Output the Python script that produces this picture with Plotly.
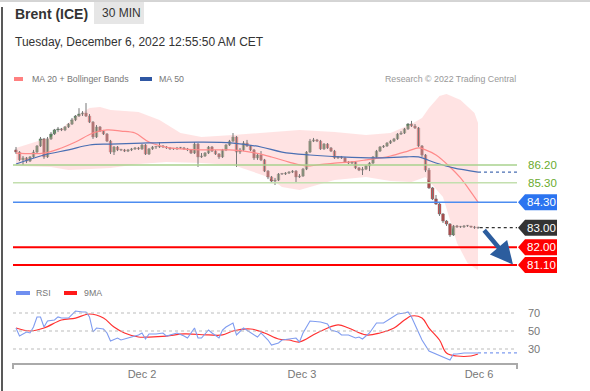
import plotly.graph_objects as go

W, H = 590, 391

# ---------------- data ----------------
candle_idx = list(range(133))
opens = [86.97, 86.86, 86.46, 86.56, 86.40, 86.61, 86.86, 87.17, 87.53, 86.61,
         87.53, 87.78, 87.99, 88.04, 87.99, 88.14, 88.29, 88.50, 88.70, 88.80,
         88.85, 88.70, 88.39, 87.63, 88.14, 87.93, 87.78, 87.42, 86.86, 87.12,
         86.97, 86.97, 86.91, 86.97, 87.02, 87.07, 87.02, 87.22, 86.76, 87.02,
         87.12, 87.12, 87.17, 87.12, 87.07, 87.02, 87.02, 87.07, 87.07, 87.02,
         86.97, 86.81, 87.27, 86.61, 86.66, 86.81, 87.12, 86.91, 86.76, 86.61,
         86.97, 87.22, 87.42, 87.63, 86.86, 86.97, 87.32, 87.17, 86.97, 86.56,
         86.71, 86.46, 85.89, 85.59, 85.38, 85.43, 85.74, 85.74, 85.79, 85.84,
         85.89, 85.59, 85.64, 85.99, 86.86, 87.42, 87.48, 87.42, 87.02, 87.27,
         87.07, 86.91, 86.56, 86.61, 86.56, 86.35, 86.30, 86.35, 86.05, 85.94,
         85.99, 86.15, 86.30, 86.61, 86.91, 87.12, 87.17, 87.32, 87.42, 87.53,
         87.78, 87.83, 88.04, 88.29, 88.19, 88.09, 87.17, 86.71, 85.94, 85.03,
         84.47, 84.21, 83.70, 83.34, 83.19, 82.63, 83.09, 83.04, 83.04, 83.09,
         83.09, 83.04, 83.00]
highs = [87.12, 86.91, 86.66, 86.61, 86.66, 86.97, 87.22, 87.63, 87.58, 87.63,
         87.88, 88.04, 88.14, 88.09, 88.19, 88.34, 88.60, 88.75, 89.10, 88.95,
         89.36, 88.80, 88.44, 88.24, 88.19, 87.99, 87.83, 87.48, 87.17, 87.17,
         87.02, 87.02, 87.02, 87.07, 87.12, 87.12, 87.27, 87.27, 87.07, 87.17,
         87.17, 87.37, 87.22, 87.17, 87.12, 87.07, 87.12, 87.12, 87.12, 87.07,
         87.02, 87.37, 87.32, 86.81, 86.86, 87.17, 87.17, 86.97, 86.81, 87.02,
         87.27, 87.48, 87.83, 87.68, 87.07, 87.42, 87.48, 87.22, 87.02, 86.81,
         86.91, 86.51, 85.94, 85.64, 85.54, 85.79, 85.79, 85.84, 85.89, 85.94,
         85.94, 85.74, 86.05, 86.91, 87.53, 87.58, 87.53, 87.48, 87.32, 87.32,
         87.12, 86.97, 86.66, 86.66, 86.61, 86.40, 86.40, 86.40, 86.10, 86.10,
         86.20, 86.35, 86.66, 86.97, 87.17, 87.22, 87.37, 87.48, 87.58, 87.83,
         87.93, 88.09, 88.34, 88.45, 88.29, 88.14, 87.22, 86.76, 86.05, 85.08,
         84.67, 84.26, 83.75, 83.39, 83.24, 83.14, 83.14, 83.09, 83.14, 83.14,
         83.09, 83.09, 83.04]
lows = [86.76, 86.40, 86.20, 86.30, 86.35, 86.56, 86.81, 87.12, 86.51, 86.56,
        87.48, 87.73, 87.88, 87.93, 87.93, 88.09, 88.24, 88.44, 88.65, 88.70,
        88.65, 88.34, 87.53, 87.58, 87.88, 87.73, 87.37, 86.76, 86.71, 86.91,
        86.91, 86.86, 86.86, 86.91, 86.97, 86.97, 86.97, 86.71, 86.71, 86.97,
        87.02, 87.07, 87.07, 87.02, 86.97, 86.97, 86.97, 87.02, 86.97, 86.91,
        86.76, 86.76, 86.10, 86.56, 86.61, 86.76, 86.86, 86.71, 86.51, 86.56,
        86.91, 87.17, 87.37, 86.10, 86.76, 86.91, 87.12, 86.91, 86.46, 86.46,
        86.40, 85.84, 85.48, 85.28, 85.18, 85.38, 85.69, 85.69, 85.74, 85.79,
        85.28, 85.54, 85.59, 85.94, 86.81, 87.37, 87.37, 86.97, 86.97, 87.02,
        86.86, 86.51, 86.51, 86.51, 86.30, 86.25, 86.25, 85.99, 85.89, 85.69,
        85.94, 85.89, 86.25, 86.56, 86.86, 87.07, 87.12, 87.27, 87.37, 87.48,
        87.73, 87.78, 87.99, 88.14, 88.04, 87.12, 86.61, 85.84, 84.98, 84.41,
        84.16, 83.60, 83.24, 83.09, 82.53, 82.58, 82.99, 82.99, 82.99, 83.04,
        82.99, 82.94, 82.94]
closes = [86.86, 86.46, 86.56, 86.40, 86.61, 86.86, 87.17, 87.53, 86.61, 87.53,
          87.78, 87.99, 88.04, 87.99, 88.14, 88.29, 88.50, 88.70, 88.80, 88.85,
          88.70, 88.39, 87.63, 88.14, 87.93, 87.78, 87.42, 86.86, 87.12, 86.97,
          86.97, 86.91, 86.97, 87.02, 87.07, 87.02, 87.22, 86.76, 87.02, 87.12,
          87.12, 87.17, 87.12, 87.07, 87.02, 87.02, 87.07, 87.07, 87.02, 86.97,
          86.81, 87.27, 86.61, 86.66, 86.81, 87.12, 86.91, 86.76, 86.61, 86.97,
          87.22, 87.42, 87.63, 86.86, 86.97, 87.32, 87.17, 86.97, 86.56, 86.71,
          86.46, 85.89, 85.59, 85.38, 85.43, 85.74, 85.74, 85.79, 85.84, 85.89,
          85.59, 85.64, 85.99, 86.86, 87.42, 87.48, 87.42, 87.02, 87.27, 87.07,
          86.91, 86.56, 86.61, 86.56, 86.35, 86.30, 86.35, 86.05, 85.94, 85.99,
          86.15, 86.30, 86.61, 86.91, 87.12, 87.17, 87.32, 87.42, 87.53, 87.78,
          87.83, 88.04, 88.29, 88.19, 88.09, 87.17, 86.71, 85.94, 85.03, 84.47,
          84.21, 83.70, 83.34, 83.19, 82.63, 83.09, 83.04, 83.04, 83.09, 83.09,
          83.04, 83.00, 83.00]

ma50_idx = [0, 8, 15, 21, 27, 36, 53, 62, 70, 76, 84, 93, 103, 111, 115, 120, 125, 132]
ma50_val = [86.25, 86.71, 86.97, 87.22, 87.27, 87.32, 87.37, 87.32, 87.12, 86.86,
            86.71, 86.61, 86.56, 86.61, 86.61, 86.30, 86.05, 85.84]

ma20_idx = [0, 8, 13, 17, 22, 26, 30, 34, 38, 44, 53, 61, 67, 73, 78, 83, 86, 91,
            95, 100, 104, 107, 112, 115, 117, 120, 124, 127, 130, 132]
ma20_val = [86.81, 86.81, 87.07, 87.37, 87.83, 87.99, 87.93, 87.83, 87.37, 87.07,
            86.97, 86.97, 86.86, 86.61, 86.35, 86.15, 86.20, 86.30, 86.35, 86.46,
            86.56, 86.66, 86.91, 87.07, 86.97, 86.71, 86.10, 85.54, 84.82, 84.31]

bb_up_idx = [0, 10, 17, 21, 24, 27, 35, 41, 47, 53, 62, 72, 81, 91, 100, 107, 113,
             116, 118, 121, 123, 127, 131, 132]
bb_up_val = [87.07, 87.63, 88.65, 89.11, 89.16, 89.01, 88.90, 88.50, 87.83, 87.63,
             87.73, 87.88, 87.99, 87.88, 87.73, 87.83, 88.29, 88.60, 89.11, 89.72,
             89.82, 89.52, 88.85, 88.34]
bb_lo_idx = [0, 10, 15, 27, 35, 43, 53, 62, 72, 76, 81, 91, 100, 107, 113, 117, 122,
             124, 126, 129, 132]
bb_lo_val = [86.15, 86.10, 85.94, 86.05, 86.25, 86.35, 86.30, 86.20, 85.59, 85.08,
             84.92, 85.43, 85.59, 85.38, 85.33, 85.59, 84.57, 83.39, 82.22, 81.20, 80.84]

rsi_idx = [0, 1, 3, 4, 5, 6, 7, 8, 9, 11, 12, 13, 15, 16, 17, 19, 20, 21, 22, 23,
           25, 26, 27, 29, 30, 32, 33, 35, 36, 37, 38, 40, 42, 43, 45, 46, 48, 49,
           51, 52, 53, 55, 56, 58, 59, 60, 62, 63, 65, 67, 69, 70, 72, 73, 75, 76,
           78, 80, 81, 82, 84, 87, 89, 90, 92, 93, 95, 97, 98, 99, 101, 103, 105,
           107, 109, 111, 112, 113, 115, 116, 118, 120, 122, 124, 125, 126, 128,
           130, 132]
rsi_val = [53.3, 44.4, 48.9, 47.8, 54.4, 65.6, 65.6, 54.4, 61.1, 62.2, 65.6, 64.4,
           64.4, 67.8, 72.2, 71.1, 71.1, 65.6, 48.9, 53.3, 52.2, 47.8, 38.9, 42.2,
           40.0, 42.2, 43.3, 45.6, 47.8, 41.1, 46.7, 46.7, 47.8, 44.4, 46.7, 47.8,
           44.4, 42.2, 53.3, 42.2, 42.2, 51.1, 47.8, 42.2, 51.1, 54.4, 58.9, 45.6,
           53.3, 47.8, 43.3, 47.8, 40.0, 34.4, 36.7, 40.0, 41.1, 42.2, 37.8, 47.8,
           61.1, 60.0, 57.8, 51.1, 48.9, 45.6, 45.6, 42.2, 43.3, 41.1, 47.8, 58.9,
           58.9, 64.4, 68.9, 70.0, 71.1, 65.6, 48.9, 40.0, 27.8, 24.4, 21.1, 17.8,
           24.4, 24.4, 25.6, 25.6, 25.6]

rsi_ma_idx = [0, 4, 8, 13, 17, 21, 25, 28, 31, 35, 38, 43, 48, 55, 59, 62, 67, 71,
              75, 78, 81, 86, 92, 95, 100, 104, 108, 111, 113, 116, 118, 121, 123,
              126, 130, 132]
rsi_ma_val = [53.3, 50.0, 53.3, 62.2, 64.4, 68.9, 64.4, 54.4, 47.8, 43.3, 43.3,
              44.4, 46.7, 45.6, 45.6, 50.0, 52.2, 47.8, 41.1, 40.0, 37.8, 47.8,
              56.7, 53.3, 45.6, 47.8, 53.3, 62.2, 66.7, 64.4, 53.3, 40.0, 25.6,
              22.2, 22.2, 24.4]

levels = [86.20, 85.30, 84.30, 83.00, 82.00, 81.10]
level_labels = ["86.20", "85.30", "84.30", "83.00", "82.00", "81.10"]
rsi_levels = [70, 50, 30]
tick_pos = [36, 81.7, 132.3]
tick_text = ["Dec 2", "Dec 3", "Dec 6"]

# ---------------- geometry helpers ----------------
def px(x):
    return x / W

def py(y):
    return 1 - y / H

FONT = "Liberation Sans, Arial, sans-serif"
X0, X1 = 13, 517            # plot area in pixels
main_top, main_bot = 92, 275
rsi_top, rsi_bot = 295, 363
price_per_px = 1 / 19.6
main_range = [86.20 - (main_bot - 165) * price_per_px, 86.20 + (165 - main_top) * price_per_px]
rsi_range = [70 - (rsi_bot - 313) / 0.9, 70 - (rsi_top - 313) / 0.9]
xr = [(X0 - 16) / 3.5, (X1 - 16) / 3.5]

fig = go.Figure()

# Bollinger band area
fig.add_trace(go.Scatter(
    x=bb_up_idx + bb_lo_idx[::-1], y=bb_up_val + bb_lo_val[::-1],
    fill="toself", fillcolor="rgba(255,200,200,0.5)", line=dict(width=0),
    mode="lines", hoverinfo="skip", yaxis="y", xaxis="x"))

# candle wicks
wx, wy = [], []
for i, hi, lo in zip(candle_idx, highs, lows):
    wx += [i, i, None]
    wy += [lo, hi, None]
fig.add_trace(go.Scatter(x=wx, y=wy, mode="lines",
                         line=dict(color="#777777", width=1), hoverinfo="skip"))

# candle bodies
base, height, colors = [], [], []
for o, c in zip(opens, closes):
    base.append(min(o, c))
    height.append(max(abs(c - o), 0.035))
    colors.append("#2e8b35" if c > o else ("#e51c1c" if c < o else "#777777"))
fig.add_trace(go.Bar(x=candle_idx, y=height, base=base, width=0.75,
                     marker=dict(color=colors, line=dict(color="#6a6a6a", width=0.5)),
                     hoverinfo="skip"))

# moving averages
fig.add_trace(go.Scatter(x=ma20_idx, y=ma20_val, mode="lines",
                         line=dict(color="#ff8a8a", width=1.2, shape="spline", smoothing=1),
                         hoverinfo="skip"))
fig.add_trace(go.Scatter(x=ma50_idx, y=ma50_val, mode="lines",
                         line=dict(color="#4a6fb3", width=1.2, shape="spline", smoothing=1),
                         hoverinfo="skip"))
fig.add_trace(go.Scatter(x=[ma50_idx[-1], xr[1]], y=[ma50_val[-1], ma50_val[-1]], mode="lines",
                         line=dict(color="#4a6fb3", width=1.2, dash="dot"), hoverinfo="skip"))

# RSI
fig.add_trace(go.Scatter(x=rsi_ma_idx, y=rsi_ma_val, mode="lines", yaxis="y2",
                         line=dict(color="#ff3030", width=1.2, shape="spline", smoothing=1),
                         hoverinfo="skip"))
fig.add_trace(go.Scatter(x=rsi_idx, y=rsi_val, mode="lines", yaxis="y2",
                         line=dict(color="#7f9cf0", width=1.1), hoverinfo="skip"))
fig.add_trace(go.Scatter(x=[rsi_idx[-1], xr[1]], y=[rsi_val[-1], rsi_val[-1]], mode="lines",
                         yaxis="y2", line=dict(color="#7f9cf0", width=1.2, dash="dot"),
                         hoverinfo="skip"))

shapes = []
annotations = []

# frame lines
shapes.append(dict(type="line", xref="paper", yref="paper", x0=0, x1=1, y0=py(1), y1=py(1),
                   line=dict(color="#aaaaaa", width=1)))
shapes.append(dict(type="line", xref="paper", yref="paper", x0=px(2), x1=px(2), y0=py(7), y1=0,
                   line=dict(color="#222222", width=1.5)))
# badge
shapes.append(dict(type="rect", xref="paper", yref="paper", x0=px(94), x1=px(144), y0=py(24), y1=py(2),
                   fillcolor="#e6e6e6", line=dict(width=0), layer="below"))

# legend swatches
shapes.append(dict(type="rect", xref="paper", yref="paper", x0=px(14), x1=px(23), y0=py(81), y1=py(77),
                   fillcolor="#ff8080", line=dict(width=0)))
shapes.append(dict(type="rect", xref="paper", yref="paper", x0=px(140), x1=px(152), y0=py(81), y1=py(77),
                   fillcolor="#2f57a3", line=dict(width=0)))
shapes.append(dict(type="rect", xref="paper", yref="paper", x0=px(16), x1=px(30), y0=py(295), y1=py(291),
                   fillcolor="#6f8ff0", line=dict(width=0)))
shapes.append(dict(type="rect", xref="paper", yref="paper", x0=px(64), x1=px(77), y0=py(295), y1=py(291),
                   fillcolor="#ff1a1a", line=dict(width=0)))

# price level lines
level_style = [("#a9d28e", 1.5), ("#c3dfae", 1.5), ("#4d8cf0", 1.5), (None, 0), ("#ff0000", 2), ("#ff0000", 2)]
for lv, (col, wd) in zip(levels, level_style):
    if col:
        shapes.append(dict(type="line", xref="paper", yref="y", x0=px(X0), x1=px(X1), y0=lv, y1=lv,
                           line=dict(color=col, width=wd)))
# dotted last-price line
shapes.append(dict(type="line", xref="x", yref="y", x0=candle_idx[-1] + 0.5, x1=xr[1],
                   y0=closes[-1], y1=closes[-1], line=dict(color="#333333", width=1.2, dash="dot")))

# level labels
hh = 8 * price_per_px
box_colors = {2: "#2b74f0", 3: "#333333", 4: "#ff0000", 5: "#ff0000"}
for k, (lv, lab) in enumerate(zip(levels, level_labels)):
    if k in box_colors:
        path = (f"M {px(518)},{lv} L {px(525)},{lv + hh} L {px(557)},{lv + hh} "
                f"L {px(557)},{lv - hh} L {px(525)},{lv - hh} Z")
        shapes.append(dict(type="path", xref="paper", yref="y", path=path,
                           fillcolor=box_colors[k], line=dict(width=0)))
        annotations.append(dict(x=px(541), y=lv, xref="paper", yref="y", text=lab, showarrow=False,
                                xanchor="center", yanchor="middle",
                                font=dict(family=FONT, size=11.5, color="white")))
    else:
        annotations.append(dict(x=px(526), y=lv, xref="paper", yref="y", text=lab, showarrow=False,
                                xanchor="left", yanchor="middle",
                                font=dict(family=FONT, size=11.5, color="#6aab2e")))

# RSI grid + labels
for lv in rsi_levels:
    shapes.append(dict(type="line", xref="paper", yref="y2", x0=px(X0), x1=px(X1), y0=lv, y1=lv,
                       line=dict(color="#bbbbbb", width=1, dash="dot")))
    annotations.append(dict(x=px(526), y=lv, xref="paper", yref="y2", text=str(lv), showarrow=False,
                            xanchor="left", yanchor="middle",
                            font=dict(family=FONT, size=11, color="#777777")))

# axis end ticks
for xx in (X0, X1):
    shapes.append(dict(type="line", xref="paper", yref="paper", x0=px(xx), x1=px(xx),
                       y0=py(rsi_bot), y1=py(rsi_bot + 6), line=dict(color="#aaaaaa", width=2)))

# texts
SMALL = 8.8
header = [
    dict(x=px(13), y=py(14), text="<b>Brent (ICE)</b>", font=dict(family=FONT, size=14, color="#333333")),
    dict(x=px(100), y=py(13), text="30 MIN", font=dict(family=FONT, size=12, color="#333333")),
    dict(x=px(13), y=py(42), text="Tuesday, December 6, 2022 12:55:50 AM CET",
         font=dict(family=FONT, size=12, color="#333333")),
    dict(x=px(30), y=py(79), text="MA 20 + Bollinger Bands", font=dict(family=FONT, size=SMALL, color="#777777")),
    dict(x=px(157), y=py(79), text="MA 50", font=dict(family=FONT, size=SMALL, color="#777777")),
    dict(x=px(34), y=py(293), text="RSI", font=dict(family=FONT, size=SMALL, color="#777777")),
    dict(x=px(82), y=py(293), text="9MA", font=dict(family=FONT, size=SMALL, color="#777777")),
]
for a in header:
    a.update(xref="paper", yref="paper", showarrow=False, xanchor="left", yanchor="middle")
annotations += header
annotations.append(dict(x=px(518), y=py(79), xref="paper", yref="paper", showarrow=False,
                        xanchor="right", yanchor="middle", text="Research © 2022 Trading Central",
                        font=dict(family=FONT, size=SMALL, color="#999999")))

# forecast arrow
annotations.append(dict(x=142, y=81.12, xref="x", yref="y", ax=133.4, ay=82.95, axref="x", ayref="y",
                        showarrow=True, arrowhead=2, arrowsize=1, arrowwidth=4.5,
                        arrowcolor="#2c5d9e", text=""))

fig.update_layout(
    width=W, height=H, margin=dict(l=0, r=0, t=0, b=0),
    paper_bgcolor="white", plot_bgcolor="white", showlegend=False,
    barmode="overlay", shapes=shapes, annotations=annotations,
    xaxis=dict(domain=[px(X0), px(X1)], range=xr, anchor="y2", showgrid=False, zeroline=False,
               showline=True, linecolor="#aaaaaa", linewidth=2, ticks="",
               tickvals=tick_pos, ticktext=tick_text,
               tickfont=dict(family=FONT, size=11, color="#777777")),
    yaxis=dict(domain=[py(main_bot), py(main_top)], range=main_range, visible=False, fixedrange=True),
    yaxis2=dict(domain=[py(rsi_bot), py(rsi_top)], range=rsi_range, visible=False, fixedrange=True),
)

fig.write_html("out.html", config={"displayModeBar": False},
               post_script="document.body.style.margin='0';document.body.style.overflow='hidden';")
